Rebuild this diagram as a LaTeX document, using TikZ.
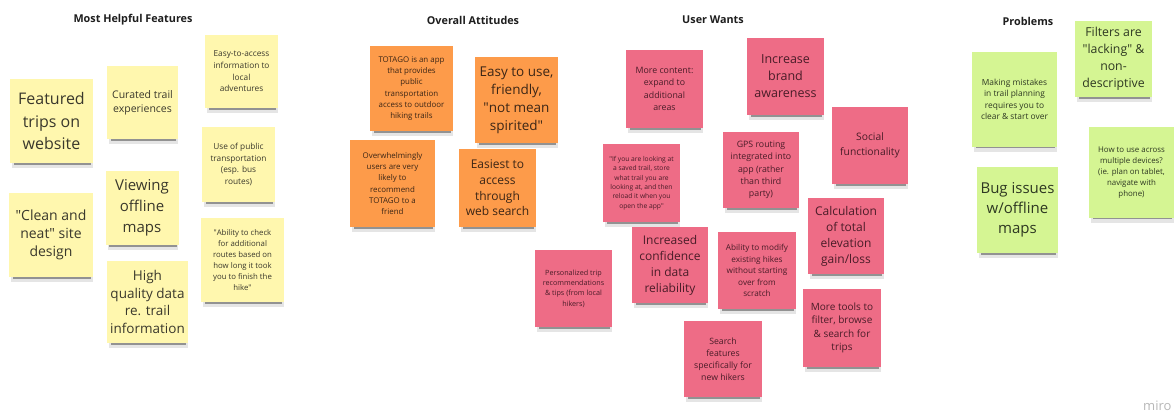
\documentclass[tikz,border=0pt]{standalone}
\usepackage{fontspec}
\setmainfont{Open Sans}
\usetikzlibrary{shadows}
\definecolor{stickyyellow}{HTML}{FFF7AE}
\definecolor{stickyorange}{HTML}{FD9B4A}
\definecolor{stickypink}{HTML}{EE6C86}
\definecolor{stickygreen}{HTML}{D5F593}
\definecolor{inkyellow}{HTML}{3A382C}
\definecolor{inkorange}{HTML}{3C2616}
\definecolor{inkpink}{HTML}{4A1C28}
\definecolor{inkgreen}{HTML}{2E3822}
\definecolor{titleink}{HTML}{1E1E1E}
\definecolor{logogrey}{HTML}{B8B8B8}
\newcommand{\fs}[2]{\fontsize{#1}{#2}\selectfont}
\newcommand{\q}{\textquotedbl}
\tikzset{
  x=1pt, y=-1pt,
  note/.style={rectangle, inner sep=0pt, align=center,
    general shadow={fill=black, opacity=0.10, shadow yshift=-6.5pt, shadow xshift=1pt, shadow scale=0.97},
    general shadow={fill=black, opacity=0.36, shadow yshift=-5.5pt, shadow xshift=1pt, shadow scale=0.92}},
  ynote/.style={note, fill=stickyyellow, text=inkyellow},
  onote/.style={note, fill=stickyorange, text=inkorange},
  pnote/.style={note, fill=stickypink, text=inkpink},
  gnote/.style={note, fill=stickygreen, text=inkgreen},
  sz/.style 2 args={minimum width=#1pt, minimum height=#2pt},
  heading/.style={font=\bfseries\fs{10.8}{13}, text=titleink}
}
\begin{document}
\begin{tikzpicture}
\clip (0,0) rectangle (1176,412);
\fill[white] (0,0) rectangle (1176,412);

% column headings
\node[heading] (h1) at (133,20) {Most Helpful Features};
\node[heading] (h2) at (473,20) {Overall Attitudes};
\node[heading] (h3) at (713,20) {User Wants};
\node[heading] (h4) at (1028,21) {Problems};

% Most Helpful Features
\node[ynote, sz={83}{84}, font=\fs{16}{22}] (feat) at (51.5,121) {Featured\\trips on\\website};
\node[ynote, sz={71}{73}, font=\fs{10.5}{14}] (cur) at (142.5,102.5) {Curated trail\\experiences};
\node[ynote, sz={73}{73}, font=\fs{8.3}{11.7}] (easy) at (241.5,71.5) {Easy-to-access\\information to\\local\\adventures};
\node[ynote, sz={73}{75}, font=\fs{8.3}{11.7}] (pub) at (238.5,164.5) {Use of public\\transportation\\(esp. bus\\routes)};
\node[ynote, sz={73}{74}, font=\fs{15}{21}] (view) at (142,208) {Viewing\\offline\\maps};
\node[ynote, sz={84}{84}, font=\fs{14}{18.3}] (clean) at (51,235) {\q Clean and\\neat\q{} site\\design};
\node[ynote, sz={83}{84}, font=\fs{7.8}{11}] (abil) at (242.5,260) {\q Ability to check\\for additional\\routes based on\\how long it took\\you to finish the\\hike\q};
\node[ynote, sz={81}{82}, font=\fs{13.5}{17.6}] (high) at (147.5,302) {High\\quality data\\re. trail\\information};

% Overall Attitudes
\node[onote, sz={83}{85}, font=\fs{7.9}{11.2}] (tot) at (411.5,88.5) {TOTAGO is an app\\that provides\\public\\transportation\\access to outdoor\\hiking trails};
\node[onote, sz={83}{86}, font=\fs{13.5}{18}] (eu) at (516.5,100) {Easy to use,\\friendly,\\\q not mean\\spirited\q};
\node[onote, sz={85}{87}, font=\fs{7.9}{11.3}] (ovr) at (392.5,183.5) {Overwhelmingly\\users are very\\likely to\\recommend\\TOTAGO to a\\friend};
\node[onote, sz={77}{78}, font=\fs{12}{15.6}] (eas) at (497.5,188) {Easiest to\\access\\through\\web search};

% User Wants
\node[pnote, sz={77}{78}, font=\fs{8.8}{12.3}] (more) at (664.5,89) {More content:\\expand to\\additional\\areas};
\node[pnote, sz={77}{77}, font=\fs{12.5}{17}] (brand) at (785.5,76.5) {Increase\\brand\\awareness};
\node[pnote, sz={76}{77}, font=\fs{10.3}{14.5}] (soc) at (870,145.5) {Social\\functionality};
\node[pnote, sz={76}{76}, font=\fs{8.8}{12.4}] (gps) at (761,170) {GPS routing\\integrated into\\app (rather\\than third\\party)};
\node[pnote, sz={77}{78}, font=\fs{6.7}{9.4}] (ifyou) at (641.5,183) {\q If you are looking at\\a saved trail, store\\what trail you are\\looking at, and then\\reload it when you\\open the app\q};
\node[pnote, sz={76}{76}, font=\fs{12}{16}] (calc) at (846,236) {Calculation\\of total\\elevation\\gain/loss};
\node[pnote, sz={76}{76}, font=\fs{12}{16}] (conf) at (670,265) {Increased\\confidence\\in data\\reliability};
\node[pnote, sz={78}{77}, font=\fs{8.2}{11.5}] (mod) at (757,270.5) {Ability to modify\\existing hikes\\without starting\\over from\\scratch};
\node[pnote, sz={77}{77}, font=\fs{7.2}{10.3}] (pers) at (573.5,288.5) {Personalized trip\\recommendations\\\& tips (from local\\hikers)};
\node[pnote, sz={78}{78}, font=\fs{10}{13.5}] (tools) at (842,328) {More tools to\\filter, browse\\\& search for\\trips};
\node[pnote, sz={78}{76}, font=\fs{8.7}{12}] (srch) at (723,359) {Search\\features\\specifically for\\new hikers};

% Problems
\node[gnote, sz={77}{76}, font=\fs{12.3}{17}] (filt) at (1113.5,59) {Filters are\\\q lacking\q{} \&\\non-\\descriptive};
\node[gnote, sz={85}{95}, font=\fs{8.4}{11.5}] (mist) at (1014.5,99.5) {Making mistakes\\in trail planning\\requires you to\\clear \& start over};
\node[gnote, sz={85}{91}, font=\fs{7.9}{11}] (how) at (1131.5,172.5) {How to use across\\multiple devices?\\(ie. plan on tablet,\\navigate with\\phone)};
\node[gnote, sz={81}{86}, font=\fs{15}{20}] (bug) at (1017.5,210) {Bug issues\\w/offline\\maps};

% board watermark
\node[anchor=west, text=logogrey, font=\fs{13}{15}, inner sep=0pt] (logo) at (1143,406) {miro};
\end{tikzpicture}
\end{document}
